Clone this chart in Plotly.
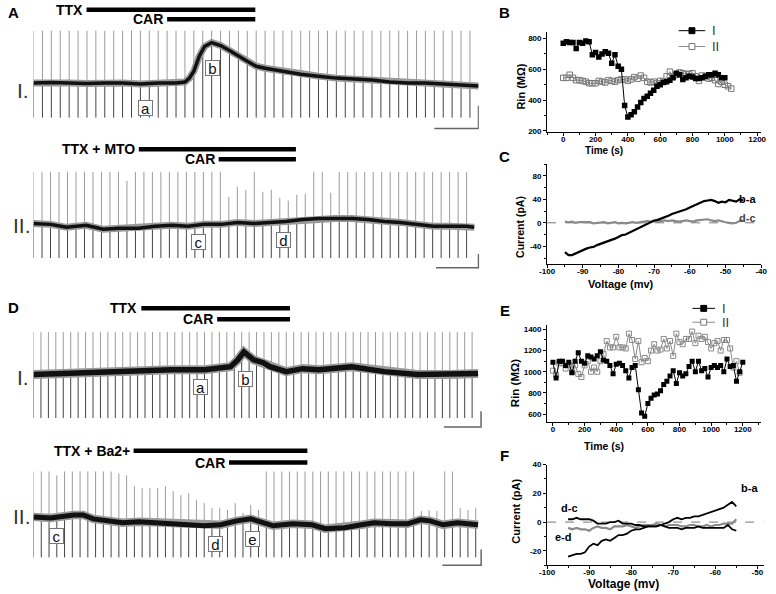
import numpy as np
import plotly.graph_objects as go

W, H = 776, 594
FONT = "Liberation Sans, Arial, Helvetica, sans-serif"

# ------------------------------------------------------------------
# DATA
# ------------------------------------------------------------------
# Left traces: x = stimulus pulse number, y = membrane potential relative to rest (mV)
aI_base_x = [0, 2, 4, 6, 8, 10, 12, 14, 16, 17, 17.5, 18, 18.6, 19.2, 20, 21, 22, 23, 24, 25, 26,
             28, 30, 32, 34, 36, 38, 40, 42, 44, 46, 48, 49.95]
aI_base_y = [0, 0.5, 0, -0.5, 0, 0, -1, 0, 0, 1, 5, 12, 27, 37, 41, 38, 33, 27, 22, 17, 15,
             12, 9, 7, 5, 4, 3, 1, 0, 0, -1, -2, -3]
aI_tops = [53] * 50
aI_bottoms = [-35] * 50

aII_base_x = [0, 2, 3.9, 6.2, 8.2, 10.1, 12.4, 14.3, 16.3, 18.2, 20.1, 22.1, 24, 26, 27.8, 29.7,
              31.7, 33.6, 35.5, 37.5, 39.4, 41.3, 43.2, 45.2, 47.1, 49, 51, 51.9]
aII_base_y = [2, 1, -2, 0, -4, -3, -3, -1, 0, -1, 1, 1, 3, 2, 3, 4, 6, 7, 7, 7, 6, 4, 3, 1, -1, -1, -1, -2]
aII_tops = [54, 54, 54, 54, 54, 54, 54, 54, 54, 54, 54, 45, 54, 54, 54, 54, 54, 54, 54, 54,
            54, 54, 54, 29, 39, 36, 54, 34, 36, 28, 25, 31, 32, 54, 54, 33, 54, 54, 54, 54,
            54, 54, 54, 54, 54, 54, 54, 54, 54, 54, 54, 54]
aII_bottoms = [-33] * 52

dI_base_x = [0, 3, 6, 9.8, 14.1, 18.6, 23, 26.5, 27.5, 28.3, 29.6, 30.9, 31.8, 34, 36.2, 38.4,
             42.8, 47.2, 51.6, 56, 59.8]
dI_base_y = [0, 1, 1, 3, 4, 5, 5, 8, 15, 23, 15, 12, 8, 3, 6, 5, 8, 3, 0, 0, 1]
dI_tops = [43] * 60
dI_bottoms = [-44] * 60

dII_base_x = [0, 2.2, 5.2, 6.4, 7.7, 9.4, 11.5, 13.6, 15.7, 17.8, 19.9, 22, 24.1, 26.2, 28, 29.6,
              30.9, 33.4, 35.9, 37.6, 40.1, 42.3, 43.9, 46.1, 48.2, 49.9, 51.1, 52.8, 54.6, 57.3]
dII_base_y = [1, 0, 3, 3, -1, -3, -5, -4, -5, -5, -6, -8, -7, -3, -1, -5, -8, -6, -7, -11,
              -10, -7, -5, -6, -6, -2, -3, -7, -5, -7]
dII_tops = [47, 47, 47, 43, 47, 47, 47, 47, 47, 47, 47, 45, 43, 32, 30, 30, 30, 32, 27, 23,
            25, 18, 15, 10, 10, 8, 15, 5, 13, 8, 47, 47, 47, 47, 47, 47, 47, 47, 47, 47,
            47, 47, 47, 47, 47, 47, 47, 47, 47, 47, 7, 8, 7, 47, 47, 10, 8, 10]
dII_bottoms = [-40] * 58

# Panel B: input resistance vs time
tB_I = list(range(0, 1001, 20))
rB_I = [770, 780, 775, 775, 735, 775, 770, 785, 780, 695, 710, 680, 700, 715, 705, 640, 695, 620,
        600, 365, 290, 305, 325, 355, 385, 410, 425, 445, 465, 490, 500, 515, 520, 530, 545, 575,
        565, 535, 545, 555, 550, 540, 540, 545, 555, 565, 565, 575, 565, 545, 545]
tB_II = list(range(0, 1041, 20))
rB_II = [545, 545, 565, 545, 530, 530, 525, 520, 510, 510, 510, 525, 520, 515, 530, 525, 520, 530,
         535, 535, 525, 535, 550, 540, 560, 545, 520, 515, 520, 510, 525, 520, 555, 585, 555, 565,
         580, 575, 570, 570, 575, 555, 525, 560, 550, 540, 545, 530, 505, 520, 500, 490, 475]

# Panel C: I-V difference currents
vC = list(range(-95, -44))
iC_ba = [-50, -55, -55, -52, -49, -46, -44, -42, -41, -38, -36, -34, -32, -30, -27, -24, -21, -20,
         -17, -13, -10, -7, -4, -1, 2, 4, 5, 7, 10, 12, 15, 17, 18, 20, 23, 26, 29, 32, 35, 37, 38,
         39, 37, 34, 36, 35, 39, 38, 36, 40, 38]
iC_dc = [2, 1, 2, 0, 1, 1, 0, 1, -1, 0, 0, 1, -1, 0, 1, -1, 0, -1, 0, 1, 0, 1, 2, 3, 2, 3, 2, 3,
         4, 3, 4, 3, 2, 3, 4, 3, 2, 4, 5, 5, 6, 4, 3, 4, 2, 1, 0, -1, 0, 3, 4]

# Panel E: input resistance vs time
tE_I = list(range(0, 1201, 20))
rE_I = [1090, 940, 1100, 1100, 1060, 1090, 990, 1100, 1180, 1100, 1080, 1150, 1140, 1120, 1150,
        1190, 1110, 1100, 1060, 980, 1070, 1080, 1060, 1010, 940, 1040, 1060, 830, 610, 580, 700,
        750, 780, 790, 820, 880, 910, 960, 1010, 890, 990, 960, 980, 1050, 1100, 1000, 1100, 1010,
        1030, 950, 1040, 1060, 1040, 1060, 1000, 1120, 1050, 1060, 910, 1000, 1090]
tE_II = list(range(0, 1181, 20))
rE_II = [1010, 970, 1080, 1080, 1030, 1060, 1000, 1060, 980, 950, 1060, 1100, 1000, 1040, 1000,
         1100, 1170, 1290, 1230, 1230, 1330, 1230, 1230, 1220, 1360, 1300, 1120, 1290, 1090, 1130,
         1100, 1200, 1260, 1200, 1210, 1310, 1220, 1290, 1150, 1360, 1280, 1260, 1310, 1310, 1380,
         1270, 1340, 1310, 1330, 1280, 1220, 1270, 1290, 1200, 1300, 1300, 1220, 1040, 1100, 990]

# Panel F: I-V difference currents
vF = list(range(-95, -54))
iF_ba = [-24, -23, -22, -22, -21, -17, -15, -16, -13, -12, -13, -11, -9, -9, -8, -6, -5, -5, -4,
         -3, -3, -3, -2, -1, 0, 2, 3, 2, 3, 3, 4, 4, 5, 6, 7, 8, 9, 10, 12, 14, 11]
iF_dc = [2, 2, 3, 2, 2, 2, 1, -1, -1, -1, 0, 0, 1, -1, -1, -1, -2, -2, -3, -3, -3, -3, -2, -3,
         -4, -4, -4, -5, -4, -4, -4, -3, -4, -4, -4, -4, -4, -4, -2, -5, -6]
iF_ed = [-4, -5, -4, -5, -5, -6, -4, -3, -4, -4, -5, -3, -3, -3, -2, -3, -4, -3, -2, -2, -2, -1,
         -2, -3, -2, -2, -2, -3, -3, -2, -2, -3, -3, -2, -3, -2, -2, -1, -1, -1, 2]

# tick labels
ticksB_x = [0, 200, 400, 600, 800, 1000, 1200]
ticksB_y = [200, 400, 600, 800]
ticksC_x = [-100, -90, -80, -70, -60, -50, -40]
ticksC_y = [-40, 0, 40, 80]
ticksE_x = [0, 200, 400, 600, 800, 1000, 1200]
ticksE_y = [600, 800, 1000, 1200, 1400]
ticksF_x = [-100, -90, -80, -70, -60, -50]
ticksF_y = [-20, 0, 20, 40]

# ------------------------------------------------------------------
# FIGURE
# ------------------------------------------------------------------
fig = go.Figure()
layout = {}
annotations = []
shapes = []


def dx(a, b):
    return [a / W, b / W]


def dy(top, bottom):
    return [1 - bottom / H, 1 - top / H]


def px(x):
    return x / W


def py(y):
    return 1 - y / H


def paper_text(txt, x, y, size, color="black", bold=False, angle=0, anchor="center"):
    f = dict(family=FONT, size=size, color=color)
    if bold:
        f["weight"] = "bold"
    annotations.append(dict(x=px(x), y=py(y), xref="paper", yref="paper", text=txt, showarrow=False,
                            xanchor=anchor, yanchor="middle", textangle=angle, font=f))


# ---------------- left traces ----------------
panels = [
    dict(i=1, xd=(26, 479.5), xr=(0, 50), yd=(0, 132), yr=(-52, 80),
         bx=aI_base_x, by=aI_base_y, tops=aI_tops, bots=aI_bottoms, bw=3.5,
         bars=[("TTX", 5.95, 24.9, 74.3), ("CAR", 15.0, 24.9, 64.5)],
         labels=[("a", 12.6, -25), ("b", 20.1, 15)],
         scale=(45.0, 49.96, -46, -23)),
    dict(i=2, xd=(26, 480), xr=(0, 52.5), yd=(136, 276), yr=(-52, 88),
         bx=aII_base_x, by=aII_base_y, tops=aII_tops, bots=aII_bottoms, bw=3.5,
         bars=[("TTX + MTO", 12.4, 30.9, 77), ("CAR", 21.8, 30.9, 67)],
         labels=[("c", 19.4, -16.5), ("d", 29.4, -15)],
         scale=(47.4, 52.4, -43, -29)),
    dict(i=3, xd=(26, 484), xr=(0, 60.5), yd=(298, 438), yr=(-63, 77),
         bx=dI_base_x, by=dI_base_y, tops=dI_tops, bots=dI_bottoms, bw=5.5,
         bars=[("TTX", 14.5, 34.5, 67), ("CAR", 24.7, 34.5, 56)],
         labels=[("a", 22.4, -13), ("b", 28.5, -4.5)],
         scale=(55.2, 60.2, -53, -37)),
    dict(i=4, xd=(26, 484.2), xr=(0, 58), yd=(442, 582), yr=(-62, 78),
         bx=dII_base_x, by=dII_base_y, tops=dII_tops, bots=dII_bottoms, bw=5,
         bars=[("TTX + Ba2+", 12.9, 35.3, 68), ("CAR", 25.2, 35.3, 56)],
         labels=[("c", 3.0, -18), ("d", 23.4, -26), ("e", 28.2, -21.5)],
         scale=(52.7, 57.7, -48, -32)),
]

for p in panels:
    i = p["i"]
    xa = "x" if i == 1 else f"x{i}"
    ya = "y" if i == 1 else f"y{i}"
    xk = "xaxis" if i == 1 else f"xaxis{i}"
    yk = "yaxis" if i == 1 else f"yaxis{i}"
    layout[xk] = dict(domain=dx(*p["xd"]), range=list(p["xr"]), visible=False, anchor=ya, fixedrange=True)
    layout[yk] = dict(domain=dy(*p["yd"]), range=list(p["yr"]), visible=False, anchor=xa, fixedrange=True)

    n = len(p["tops"])
    ux, uy, lx, ly = [], [], [], []
    for k in range(n):
        b = float(np.interp(k, p["bx"], p["by"]))
        ux += [k, k, None]
        uy += [p["tops"][k], b, None]
        lx += [k, k, None]
        ly += [b, p["bots"][k], None]
    fig.add_trace(go.Scatter(x=ux, y=uy, mode="lines", line=dict(color="#9c9c9c", width=1),
                             xaxis=xa, yaxis=ya, showlegend=False, hoverinfo="skip"))
    fig.add_trace(go.Scatter(x=lx, y=ly, mode="lines", line=dict(color="#444444", width=1),
                             xaxis=xa, yaxis=ya, showlegend=False, hoverinfo="skip"))
    fig.add_trace(go.Scatter(x=p["bx"], y=p["by"], mode="lines", line=dict(color="#9a9a9a", width=p["bw"] + 3.5),
                             xaxis=xa, yaxis=ya, showlegend=False, hoverinfo="skip"))
    fig.add_trace(go.Scatter(x=p["bx"], y=p["by"], mode="lines", line=dict(color="#111111", width=p["bw"]),
                             xaxis=xa, yaxis=ya, showlegend=False, hoverinfo="skip"))
    # drug application bars
    for txt, s, e, yv in p["bars"]:
        fig.add_trace(go.Scatter(x=[s, e], y=[yv, yv], mode="lines", line=dict(color="black", width=4.5),
                                 xaxis=xa, yaxis=ya, showlegend=False, hoverinfo="skip"))
        annotations.append(dict(x=s, y=yv, xref=xa, yref=ya, text=txt, showarrow=False,
                                xanchor="right", yanchor="middle", xshift=-2,
                                font=dict(family=FONT, size=14, color="black", weight="bold")))
    # labelled time points
    for txt, xv, yv in p["labels"]:
        annotations.append(dict(x=xv, y=yv, xref=xa, yref=ya, text=txt, showarrow=False,
                                xanchor="center", yanchor="middle",
                                font=dict(family=FONT, size=15, color="#111"),
                                bgcolor="white", bordercolor="#777", borderwidth=1, borderpad=0,
                                width=13, height=14))
    # scale bar
    x0, x1, y0, y1 = p["scale"]
    fig.add_trace(go.Scatter(x=[x0, x1, x1], y=[y0, y0, y1], mode="lines", line=dict(color="#666", width=1.5),
                             xaxis=xa, yaxis=ya, showlegend=False, hoverinfo="skip"))

# row labels
for txt, x, y in [("I.", 15, 88), ("II.", 14, 224), ("I.", 15, 378), ("II.", 14, 519)]:
    paper_text(txt, x, y, 21, color="#333")

# panel letters
for txt, x, y in [("A", 6, 9), ("B", 506, 9), ("C", 506, 154), ("D", 6, 307), ("E", 506, 310), ("F", 506, 457)]:
    paper_text(txt, x, y, 15, bold=True)


# ---------------- right plots ----------------
def sci_axis(domain, rng, tickvals, minor_dtick, anchor, standoff):
    return dict(domain=domain, range=rng, anchor=anchor, showline=True, linecolor="black", linewidth=1,
                ticks="outside", ticklen=3, tickwidth=1, tickcolor="black",
                tickvals=tickvals, ticktext=[str(v) for v in tickvals], ticklabelstandoff=standoff,
                minor=dict(ticks="outside", ticklen=2, tickwidth=1, tickcolor="black", dtick=minor_dtick,
                           tick0=0),
                showgrid=False, zeroline=False, fixedrange=True,
                tickfont=dict(family=FONT, size=8, color="black", weight="bold"))


layout["xaxis5"] = sci_axis(dx(549, 767), [-100, 1225], ticksB_x, 100, "y5", -4)
layout["yaxis5"] = sci_axis(dy(28, 130), [190, 845], ticksB_y, 100, "x5", 0)
layout["xaxis6"] = sci_axis(dx(549, 767), [-100, -40], ticksC_x, 5, "y6", -4)
layout["yaxis6"] = sci_axis(dy(162, 263), [-70, 100], ticksC_y, 20, "x6", 0)
layout["xaxis7"] = sci_axis(dx(549, 767), [-37, 1316], ticksE_x, 100, "y7", -4)
layout["yaxis7"] = sci_axis(dy(325, 423), [525, 1440], ticksE_y, 100, "x7", 0)
layout["xaxis8"] = sci_axis(dx(549, 769.5), [-100, -48.5], ticksF_x, 5, "y8", -4)
layout["yaxis8"] = sci_axis(dy(466, 568), [-30, 40], ticksF_y, 10, "x8", 0)

# B
fig.add_trace(go.Scatter(x=tB_II, y=rB_II, mode="lines+markers", name="II", xaxis="x5", yaxis="y5",
                         line=dict(color="#8a8a8a", width=1),
                         marker=dict(symbol="square-open", size=5.5, color="#777", line=dict(width=1)),
                         showlegend=False))
fig.add_trace(go.Scatter(x=tB_I, y=rB_I, mode="lines+markers", name="I", xaxis="x5", yaxis="y5",
                         line=dict(color="black", width=1),
                         marker=dict(symbol="square", size=5.5, color="black"), showlegend=False))
# C
fig.add_trace(go.Scatter(x=[-100, -40], y=[0, 0], mode="lines", line=dict(color="#555", width=0.8, dash="dash"),
                         xaxis="x6", yaxis="y6", showlegend=False, hoverinfo="skip"))
fig.add_trace(go.Scatter(x=vC, y=iC_dc, mode="lines", line=dict(color="#8a8a8a", width=2.2),
                         xaxis="x6", yaxis="y6", showlegend=False))
fig.add_trace(go.Scatter(x=vC, y=iC_ba, mode="lines", line=dict(color="black", width=2.2),
                         xaxis="x6", yaxis="y6", showlegend=False))
# E
fig.add_trace(go.Scatter(x=tE_II, y=rE_II, mode="lines+markers", name="II", xaxis="x7", yaxis="y7",
                         line=dict(color="#8a8a8a", width=1),
                         marker=dict(symbol="square-open", size=5, color="#888", line=dict(width=1)),
                         showlegend=False))
fig.add_trace(go.Scatter(x=tE_I, y=rE_I, mode="lines+markers", name="I", xaxis="x7", yaxis="y7",
                         line=dict(color="black", width=1),
                         marker=dict(symbol="square", size=5, color="black"), showlegend=False))
# F
fig.add_trace(go.Scatter(x=[-100, -48.5], y=[0, 0], mode="lines", line=dict(color="#555", width=0.8, dash="dash"),
                         xaxis="x8", yaxis="y8", showlegend=False, hoverinfo="skip"))
fig.add_trace(go.Scatter(x=vF, y=iF_ed, mode="lines", line=dict(color="#8a8a8a", width=2.2),
                         xaxis="x8", yaxis="y8", showlegend=False))
fig.add_trace(go.Scatter(x=vF, y=iF_dc, mode="lines", line=dict(color="black", width=1.8),
                         xaxis="x8", yaxis="y8", showlegend=False))
fig.add_trace(go.Scatter(x=vF, y=iF_ba, mode="lines", line=dict(color="black", width=1.8),
                         xaxis="x8", yaxis="y8", showlegend=False))

# curve labels
for txt, x, y, xa, ya, col in [("b-a", -43.9, 41, "x6", "y6", "black"), ("d-c", -43.9, 8, "x6", "y6", "#444"),
                               ("b-a", -51.9, 23.5, "x8", "y8", "black"), ("d-c", -94.6, 9.8, "x8", "y8", "black"),
                               ("e-d", -96, -10, "x8", "y8", "black")]:
    annotations.append(dict(x=x, y=y, xref=xa, yref=ya, text=txt, showarrow=False,
                            xanchor="center", yanchor="middle",
                            font=dict(family=FONT, size=11, color=col, weight="bold")))

# axis titles
for txt, x, y, ang, size in [("Time (s)", 607, 148, 0, 10), ("Rin (MΩ)", 522, 84, -90, 11),
                             ("Voltage (mv)", 624, 283, 0, 11), ("Current (pA)", 522, 226, -90, 10.5),
                             ("Time (s)", 607, 447, 0, 10.5), ("Rin (MΩ)", 517, 384, -90, 11.5),
                             ("Voltage (mv)", 627, 587, 0, 12), ("Current (pA)", 517, 513, -90, 11)]:
    paper_text(txt, x, y, size, bold=True, angle=ang)

# legends (drawn as key glyphs + text)
for (x0, x1, y, txt, filled) in [(683, 710, 27, "I", True), (683, 710, 43, "II", False),
                                 (697, 720, 308, "I", True), (697, 720, 322, "II", False)]:
    col = "black" if filled else "#8a8a8a"
    shapes.append(dict(type="line", xref="paper", yref="paper", x0=px(x0), x1=px(x1), y0=py(y), y1=py(y),
                       line=dict(color=col, width=1)))
    cx = (x0 + x1) / 2
    shapes.append(dict(type="rect", xref="paper", yref="paper", x0=px(cx - 3), x1=px(cx + 3),
                       y0=py(y + 3), y1=py(y - 3), fillcolor="black" if filled else "white",
                       line=dict(color="black" if filled else "#777", width=1)))
    paper_text(txt, x1 + 5, y, 13, color="#333", anchor="left")

fig.update_layout(width=W, height=H, margin=dict(l=0, r=0, t=0, b=0), paper_bgcolor="white",
                  plot_bgcolor="white", annotations=annotations, shapes=shapes, showlegend=False, **layout)

fig.write_html("out.html", config={"displayModeBar": False},
               post_script="document.body.style.margin='0px';document.body.style.overflow='hidden';")
